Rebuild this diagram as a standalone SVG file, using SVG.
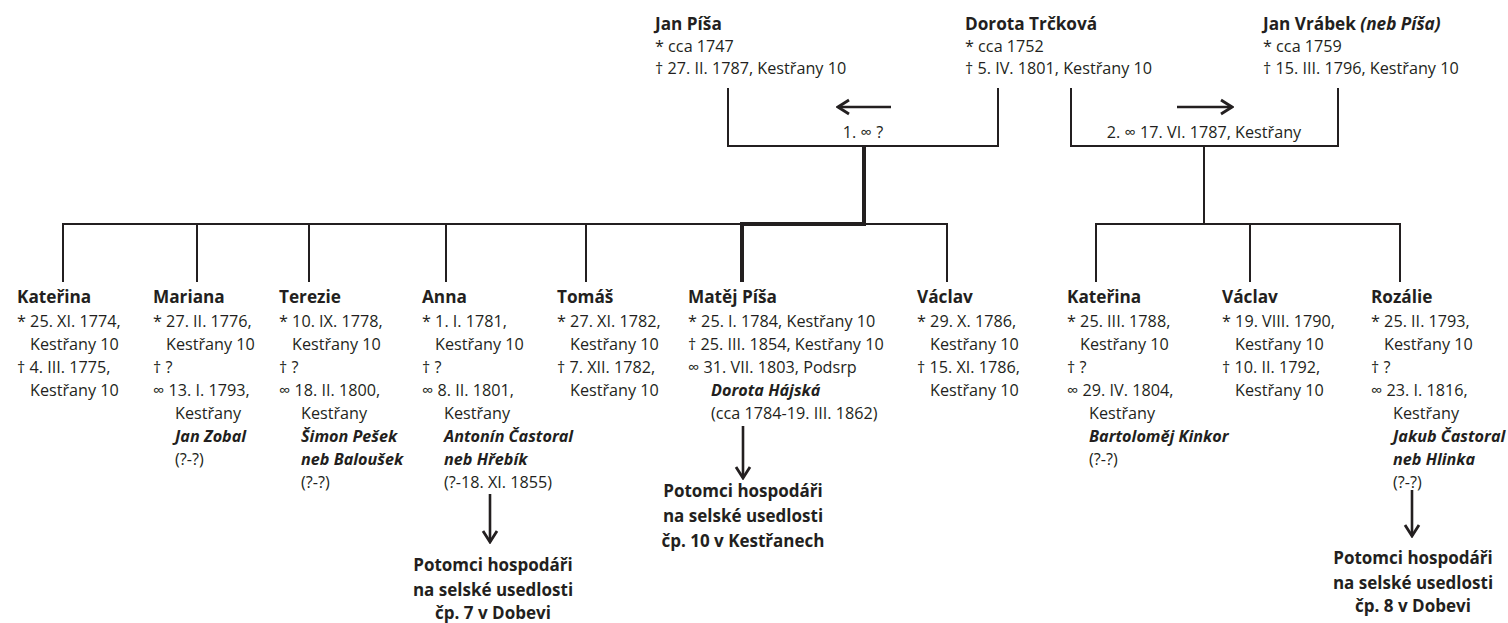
<svg xmlns="http://www.w3.org/2000/svg" width="1508" height="623" viewBox="0 0 1508 623">
<defs>
<style>
text{font-family:"Open Sans","Noto Sans","Liberation Sans",sans-serif;fill:#231f20;font-size:16.2px}
.n{font-weight:bold;font-size:17.2px}
.bi{font-weight:bold;font-style:italic}
.i{font-style:italic}
.d{font-weight:bold;font-size:17px;text-anchor:middle}
.c{text-anchor:middle}
.ln{stroke:#231f20;stroke-width:2;fill:none}
.ar{stroke:#231f20;stroke-width:2.6;fill:none}
.th{stroke:#231f20;stroke-width:4;fill:none}
</style>
<marker id="ah" viewBox="0 0 16 18" refX="14" refY="9" markerWidth="16" markerHeight="18" markerUnits="userSpaceOnUse" orient="auto">
<path d="M3,2 L14,9 L3,16" fill="none" stroke="#231f20" stroke-width="2.8"/>
</marker>
</defs>
<rect width="1508" height="623" fill="#fff"/>
<g id="connectors">
<path class="ln" d="M728,88 V146 H998 V88"/>
<path class="ln" d="M1071,88 V146 H1338 V88"/>
<path class="th" d="M864,146 V224 H742 V282"/>
<path class="ln" d="M63,282 V224 H864 M947,282 V224 H862"/>
<path class="ln" d="M197,224 V282 M309,224 V282 M446,224 V282 M586,224 V282"/>
<path class="ln" d="M1204,146 V224 M1096,282 V224 H1400 V282 M1250,224 V282"/>
<path class="ar" d="M891,107 H838" marker-end="url(#ah)"/>
<path class="ar" d="M1177,107 H1232" marker-end="url(#ah)"/>
<path class="ar" d="M743,426 V478" marker-end="url(#ah)"/>
<path class="ar" d="M490,494 V542" marker-end="url(#ah)"/>
<path class="ar" d="M1412,490 V536" marker-end="url(#ah)"/>
<text x="863" y="138" class="c">1. ∞ ?</text>
<text x="1204" y="138" class="c">2. ∞ 17. VI. 1787, Kestřany</text>
</g>
<g id="jan-pisa">
<text x="655" y="30" class="n">Jan Píša</text>
<text x="655" y="52">* cca 1747</text>
<text x="655" y="74">† 27. II. 1787, Kestřany 10</text>
</g>
<g id="dorota-trckova">
<text x="965" y="30" class="n">Dorota Trčková</text>
<text x="965" y="52">* cca 1752</text>
<text x="965" y="74">† 5. IV. 1801, Kestřany 10</text>
</g>
<g id="jan-vrabek">
<text x="1263" y="30" class="n">Jan Vrábek <tspan class="i">(neb Píša)</tspan></text>
<text x="1263" y="52">* cca 1759</text>
<text x="1263" y="74">† 15. III. 1796, Kestřany 10</text>
</g>
<g id="katerina1">
<text x="17" y="303" class="n">Kateřina</text>
<text x="17" y="327">* 25. XI. 1774,</text>
<text x="30" y="350">Kestřany 10</text>
<text x="17" y="373">† 4. III. 1775,</text>
<text x="30" y="396">Kestřany 10</text>
</g>
<g id="mariana">
<text x="153" y="303" class="n">Mariana</text>
<text x="153" y="327">* 27. II. 1776,</text>
<text x="166" y="350">Kestřany 10</text>
<text x="153" y="373">† ?</text>
<text x="153" y="396">∞ 13. I. 1793,</text>
<text x="175" y="419">Kestřany</text>
<text x="175" y="442" class="bi">Jan Zobal</text>
<text x="175" y="465">(?-?)</text>
</g>
<g id="terezie">
<text x="279" y="303" class="n">Terezie</text>
<text x="279" y="327">* 10. IX. 1778,</text>
<text x="292" y="350">Kestřany 10</text>
<text x="279" y="373">† ?</text>
<text x="279" y="396">∞ 18. II. 1800,</text>
<text x="301" y="419">Kestřany</text>
<text x="301" y="442" class="bi">Šimon Pešek</text>
<text x="301" y="465" class="bi">neb Baloušek</text>
<text x="301" y="488">(?-?)</text>
</g>
<g id="anna">
<text x="422" y="303" class="n">Anna</text>
<text x="422" y="327">* 1. I. 1781,</text>
<text x="435" y="350">Kestřany 10</text>
<text x="422" y="373">† ?</text>
<text x="422" y="396">∞ 8. II. 1801,</text>
<text x="444" y="419">Kestřany</text>
<text x="444" y="442" class="bi">Antonín Častoral</text>
<text x="444" y="465" class="bi">neb Hřebík</text>
<text x="444" y="488">(?-18. XI. 1855)</text>
</g>
<g id="anna-descendants">
<text x="493" y="571" class="d">Potomci hospodáři</text>
<text x="493" y="596" class="d">na selské usedlosti</text>
<text x="493" y="619" class="d">čp. 7 v Dobevi</text>
</g>
<g id="tomas">
<text x="557" y="303" class="n">Tomáš</text>
<text x="557" y="327">* 27. XI. 1782,</text>
<text x="570" y="350">Kestřany 10</text>
<text x="557" y="373">† 7. XII. 1782,</text>
<text x="570" y="396">Kestřany 10</text>
</g>
<g id="matej-pisa">
<text x="688" y="303" class="n">Matěj Píša</text>
<text x="688" y="327">* 25. I. 1784, Kestřany 10</text>
<text x="688" y="350">† 25. III. 1854, Kestřany 10</text>
<text x="688" y="373">∞ 31. VII. 1803, Podsrp</text>
<text x="711" y="396" class="bi">Dorota Hájská</text>
<text x="711" y="419">(cca 1784-19. III. 1862)</text>
</g>
<g id="matej-descendants">
<text x="743" y="497" class="d">Potomci hospodáři</text>
<text x="743" y="522" class="d">na selské usedlosti</text>
<text x="743" y="547" class="d">čp. 10 v Kestřanech</text>
</g>
<g id="vaclav1">
<text x="917" y="303" class="n">Václav</text>
<text x="917" y="327">* 29. X. 1786,</text>
<text x="930" y="350">Kestřany 10</text>
<text x="917" y="373">† 15. XI. 1786,</text>
<text x="930" y="396">Kestřany 10</text>
</g>
<g id="katerina2">
<text x="1067" y="303" class="n">Kateřina</text>
<text x="1067" y="327">* 25. III. 1788,</text>
<text x="1080" y="350">Kestřany 10</text>
<text x="1067" y="373">† ?</text>
<text x="1067" y="396">∞ 29. IV. 1804,</text>
<text x="1089" y="419">Kestřany</text>
<text x="1089" y="442" class="bi">Bartoloměj Kinkor</text>
<text x="1089" y="465">(?-?)</text>
</g>
<g id="vaclav2">
<text x="1222" y="303" class="n">Václav</text>
<text x="1222" y="327">* 19. VIII. 1790,</text>
<text x="1235" y="350">Kestřany 10</text>
<text x="1222" y="373">† 10. II. 1792,</text>
<text x="1235" y="396">Kestřany 10</text>
</g>
<g id="rozalie">
<text x="1371" y="303" class="n">Rozálie</text>
<text x="1371" y="327">* 25. II. 1793,</text>
<text x="1384" y="350">Kestřany 10</text>
<text x="1371" y="373">† ?</text>
<text x="1371" y="396">∞ 23. I. 1816,</text>
<text x="1393" y="419">Kestřany</text>
<text x="1393" y="442" class="bi">Jakub Častoral</text>
<text x="1393" y="465" class="bi">neb Hlinka</text>
<text x="1393" y="488">(?-?)</text>
</g>
<g id="rozalie-descendants">
<text x="1413" y="564" class="d">Potomci hospodáři</text>
<text x="1413" y="589" class="d">na selské usedlosti</text>
<text x="1413" y="612" class="d">čp. 8 v Dobevi</text>
</g>
</svg>
